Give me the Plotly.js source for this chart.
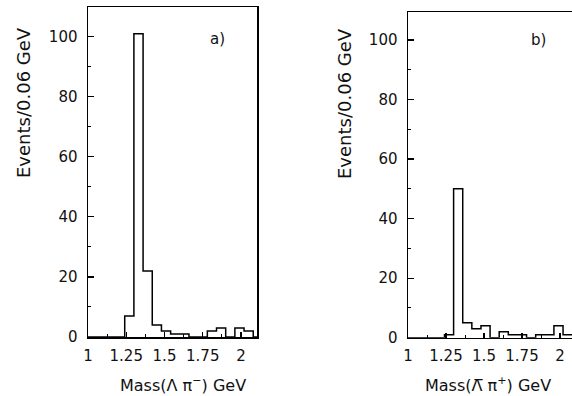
<!DOCTYPE html>
<html>
<head>
<meta charset="utf-8">
<script src="https://cdn.plot.ly/plotly-3.0.1.min.js"></script>
<style>
html, body { margin: 0; padding: 0; overflow: hidden; background: #fff; }
#chart { width: 580px; height: 396px; }
</style>
</head>
<body>
<div id="chart"></div>
<script>
// Lower bin edges (GeV), bin width 0.06 GeV
const massBins = [1.00, 1.06, 1.12, 1.18, 1.24, 1.30, 1.36, 1.42, 1.48, 1.54, 1.60, 1.66, 1.72, 1.78, 1.84, 1.90, 1.96, 2.02, 2.08];
const binWidth = 0.06;
// Panel a) Mass(Λ π⁻)
const countsA = [0, 0, 0, 0, 7, 101, 22, 4, 2, 1, 1, 0, 0, 2, 3, 0, 3, 2, 0];
// Panel b) Mass(Λ̄ π⁺)
const countsB = [0, 0, 0, 0, 1, 50, 5, 3, 4, 0, 2, 1, 1, 0, 1, 1, 4, 1, 1];
const xTickVals = [1, 1.25, 1.5, 1.75, 2];
const xTickText = ['1', '1.25', '1.5', '1.75', '2'];
const yTickVals = [0, 20, 40, 60, 80, 100];

function stepTrace(counts, xa, ya) {
  const x = massBins.slice();
  x.push(massBins[massBins.length - 1] + binWidth);
  const y = counts.slice();
  y.push(counts[counts.length - 1]);
  return {
    x: x, y: y, xaxis: xa, yaxis: ya, type: 'scatter', mode: 'lines',
    line: { shape: 'hv', color: '#000', width: 1.5 },
    hoverinfo: 'skip', showlegend: false
  };
}

const W = 580, H = 396;
const tickFont = { family: 'DejaVu Sans', size: 15, color: '#111' };

function xAxis(domain, range, anchor) {
  return {
    domain: domain, range: range, anchor: anchor,
    tickmode: 'array', tickvals: xTickVals, ticktext: xTickText,
    ticks: 'inside', ticklen: 5, tickwidth: 1.2, tickcolor: '#000',
    minor: { dtick: 0.125, tick0: 1, ticks: 'inside', ticklen: 3, tickwidth: 1, tickcolor: '#000' },
    showline: true, linecolor: '#000', linewidth: 1.5, mirror: true,
    showgrid: false, zeroline: false, tickfont: tickFont, ticklabelstandoff: 4
  };
}
function yAxis(domain, range, anchor) {
  return {
    domain: domain, range: range, anchor: anchor,
    tickmode: 'array', tickvals: yTickVals,
    ticks: 'inside', ticklen: 6, tickwidth: 1.2, tickcolor: '#000',
    minor: { dtick: 10, tick0: 0, ticks: 'inside', ticklen: 3, tickwidth: 1, tickcolor: '#000' },
    showline: true, linecolor: '#000', linewidth: 1.5, mirror: true,
    showgrid: false, zeroline: false, tickfont: tickFont, ticklabelstandoff: 6
  };
}

function ann(text, px, py, size, angle) {
  return {
    text: text, xref: 'paper', yref: 'paper', x: px / W, y: 1 - py / H,
    xanchor: 'center', yanchor: 'middle', showarrow: false, textangle: angle || 0,
    font: { family: 'DejaVu Sans', size: size, color: '#111' }
  };
}

const layout = {
  width: W, height: H,
  margin: { l: 0, r: 0, t: 0, b: 0 },
  paper_bgcolor: '#fff', plot_bgcolor: '#fff',
  showlegend: false,
  xaxis: xAxis([88 / W, 257 / W], [1, 1 + 169 / 153], 'y'),
  yaxis: yAxis([59 / H, 389 / H], [0, 330 / 3.003], 'x'),
  xaxis2: xAxis([408 / W, 1], [1, 1 + 172 / 152], 'y2'),
  yaxis2: yAxis([58.3 / H, 384 / H], [0, 325.7 / 2.977], 'x2'),
  annotations: [
    ann('Events/0.06 GeV', 23, 103, 18, -90),
    ann('Events/0.06 GeV', 344, 104, 18, -90),
    ann('Mass(Λ π<sup>−</sup>) GeV', 183, 384, 16),
    ann('Mass(\u039B\u0305 π<sup>+</sup>) GeV', 488, 384, 16),
    ann('a)', 218, 39, 15),
    ann('b)', 538, 40, 15)
  ]
};

Plotly.newPlot('chart', [stepTrace(countsA, 'x', 'y'), stepTrace(countsB, 'x2', 'y2')], layout, { staticPlot: true, displayModeBar: false });
</script>
</body>
</html>
